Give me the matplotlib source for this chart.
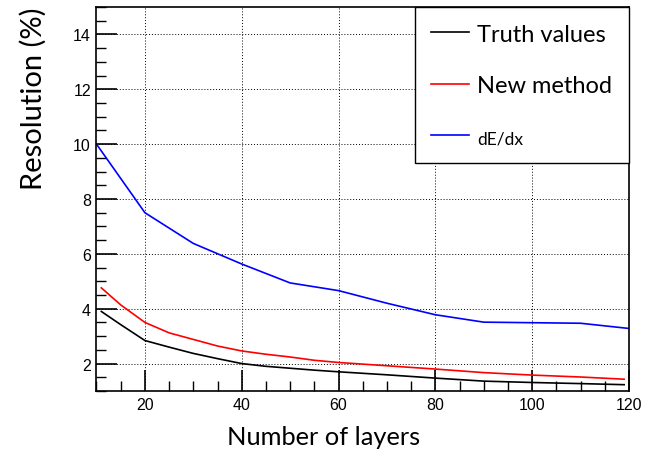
"""
Energy resolution vs number of layers: truth, new method, dE/dx.
"""

import matplotlib
matplotlib.use('Agg')
import matplotlib.pyplot as plt
from matplotlib.ticker import MultipleLocator

# curves
layers_curve = [11, 15, 20, 25, 30, 35, 40, 45, 50, 55, 60, 70, 80, 90, 100, 110, 119]
truth_values = [3.9, 3.42, 2.84, 2.6, 2.37, 2.18, 2.0, 1.9, 1.83, 1.76, 1.70,
                1.59, 1.47, 1.36, 1.31, 1.27, 1.23]
new_method = [4.76, 4.14, 3.5, 3.12, 2.88, 2.64, 2.46, 2.34, 2.24, 2.12, 2.04,
              1.92, 1.80, 1.67, 1.58, 1.51, 1.43]

layers_dedx = [10, 20, 30, 40, 50, 60, 70, 80, 90, 100, 110, 120]
dedx = [10.0, 7.5, 6.38, 5.63, 4.94, 4.66, 4.2, 3.78, 3.51, 3.49, 3.47, 3.28]

labels = ['Truth values', 'New method', 'dE/dx']

W, H = 650, 452


def main():
    plt.rcParams['font.family'] = ['Liberation Sans', 'DejaVu Sans']
    fig = plt.figure(figsize=(W / 100, H / 100), dpi=100)
    ax = fig.add_axes([96.5 / W, 1 - 392 / H, (629 - 96.5) / W, (392 - 8) / H])

    l1, = ax.plot(layers_curve, truth_values, color='black', lw=1.2)
    l2, = ax.plot(layers_curve, new_method, color='#ff0000', lw=1.2)
    l3, = ax.plot(layers_dedx, dedx, color='#0000ff', lw=1.2)

    ax.set_xlim(10, 120)
    ax.set_ylim(1, 15)
    ax.xaxis.set_major_locator(MultipleLocator(20))
    ax.xaxis.set_minor_locator(MultipleLocator(5))
    ax.yaxis.set_major_locator(MultipleLocator(2))
    ax.yaxis.set_minor_locator(MultipleLocator(0.5))
    ax.grid(True, which='major', color='black', linestyle=(0, (1, 2)), lw=0.7)
    ax.tick_params(which='both', direction='in', top=False, right=False,
                   labelsize=11.5, pad=4)
    ax.tick_params(which='major', length=15, width=1.2)
    ax.tick_params(which='minor', length=7, width=1.0)
    for sp in ax.spines.values():
        sp.set_linewidth(1.2)

    leg = ax.legend([l1, l2, l3], labels, loc='upper right', borderaxespad=0,
                    prop={'family': 'Lato', 'size': 17}, frameon=True,
                    fancybox=False, edgecolor='black', framealpha=1,
                    handlelength=1.6, handletextpad=0.35, labelspacing=1.3,
                    borderpad=0.7)
    leg.get_frame().set_linewidth(1.0)
    leg.get_texts()[2].set_fontsize(12.5)

    fig.text(33 / W, 1 - 8 / H, 'Resolution (%)', rotation=90, ha='center',
             va='top', family='Lato', fontsize=21)
    fig.text(324 / W, 1 - 438 / H, 'Number of layers', ha='center',
             va='center', family='Lato', fontsize=18.3)

    fig.savefig('out.png', dpi=100)
    plt.close(fig)


if __name__ == '__main__':
    main()
